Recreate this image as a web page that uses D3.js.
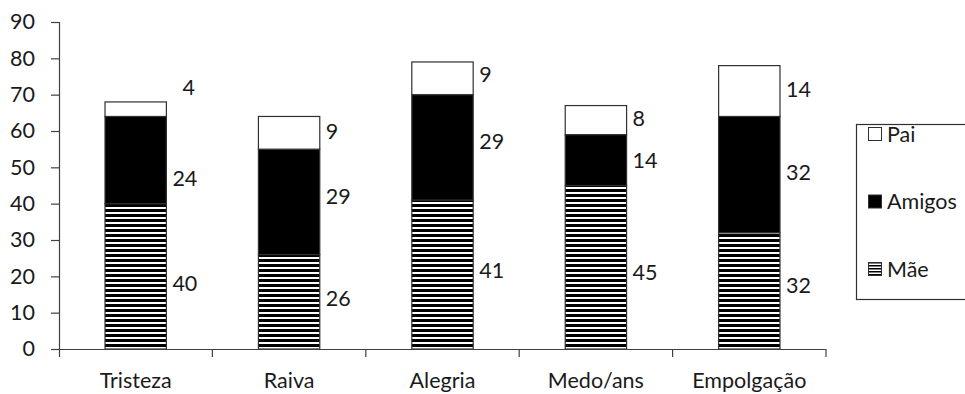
<!DOCTYPE html>
<html>
<head>
<meta charset="utf-8">
<script src="https://cdn.jsdelivr.net/npm/d3@7"></script>
<style>
  html, body { margin: 0; padding: 0; background: #fff; }
  svg { display: block; }
  text { font-family: Lato, "Open Sans", sans-serif; fill: #1a1a1a; }
</style>
</head>
<body>
<svg id="chart" width="965" height="394"></svg>
<script>
// ---- data ----
const categories = ["Tristeza", "Raiva", "Alegria", "Medo/ans", "Empolgação"];
const seriesNames = ["Mãe", "Amigos", "Pai"];
const maeValues = [40, 26, 41, 45, 32];
const amigosValues = [24, 29, 29, 14, 32];
const paiValues = [4, 9, 9, 8, 14];
const yTicks = [0, 10, 20, 30, 40, 50, 60, 70, 80, 90];
// label nudges (in data units) for the manually placed labels in the original
const maeLabelNudge = [-2, 1, 1, -1.5, 1.5];
const amigosLabelNudge = [-5, 1.5, 1.5, 0, 0.5];
const paiLabelNudge = [6, 0.5, 1, 0.5, 0.5];

const rows = categories.map((c, i) => ({ cat: c, "Mãe": maeValues[i], "Amigos": amigosValues[i], "Pai": paiValues[i] }));
const nudges = { "Mãe": maeLabelNudge, "Amigos": amigosLabelNudge, "Pai": paiLabelNudge };

const FS = 21.5;
const svg = d3.select("#chart");
const left = 59;

const x = d3.scaleBand().domain(categories).range([left, 826]).paddingInner(0).paddingOuter(0);
const y = d3.scaleLinear().domain([0, 90]).range([349, 22]);

// hatch pattern
const defs = svg.append("defs");
const pat = defs.append("pattern").attr("id", "hatch").attr("patternUnits", "userSpaceOnUse")
  .attr("width", 8).attr("height", 5).attr("y", 349);
pat.append("rect").attr("width", 8).attr("height", 5).attr("fill", "#fff");
pat.append("rect").attr("y", 0).attr("width", 8).attr("height", 3).attr("fill", "#000");
const patL = defs.append("pattern").attr("id", "hatchL").attr("patternUnits", "userSpaceOnUse")
  .attr("width", 8).attr("height", 3).attr("y", 1);
patL.append("rect").attr("width", 8).attr("height", 3).attr("fill", "#fff");
patL.append("rect").attr("width", 8).attr("height", 1.5).attr("fill", "#000");

const fills = { "Mãe": "url(#hatch)", "Amigos": "#000", "Pai": "#fff" };
const legendFills = { "Mãe": "url(#hatchL)", "Amigos": "#000", "Pai": "#fff" };

const stack = d3.stack().keys(seriesNames)(rows);

const barW = x.bandwidth() * 0.4;
const barX = d => x(d.data.cat) + (x.bandwidth() - barW) / 2;

// y axis
const yAxis = d3.axisLeft(y).tickValues(yTicks).tickSize(8).tickPadding(16).tickSizeOuter(0);
const gy = svg.append("g").attr("transform", `translate(${left},0)`).call(yAxis);
gy.select(".domain").remove();
gy.append("line").attr("x1", 0.5).attr("x2", 0.5).attr("y1", 22).attr("y2", 357).attr("stroke", "#404040").attr("stroke-width", 1.2);
gy.selectAll(".tick line").attr("stroke", "#404040").attr("stroke-width", 1.2);
gy.selectAll(".tick text").attr("font-size", FS).attr("font-family", "Lato, sans-serif").attr("fill", "#1a1a1a");

// bars
stack.forEach(layer => {
  const key = layer.key;
  svg.append("g").selectAll("rect").data(layer).join("rect")
    .attr("x", d => barX(d))
    .attr("y", d => y(d[1]))
    .attr("width", barW)
    .attr("height", d => y(d[0]) - y(d[1]))
    .attr("fill", fills[key])
    .attr("stroke", "#303030")
    .attr("stroke-width", 1.2);
});

// x axis
const xAxis = d3.axisBottom(x).tickSize(0).tickPadding(24).tickSizeOuter(0);
const gx = svg.append("g").attr("transform", "translate(0,349)").call(xAxis);
gx.select(".domain").remove();
gx.selectAll(".tick text").attr("font-size", FS).attr("font-family", "Lato, sans-serif").attr("fill", "#1a1a1a");
svg.append("line").attr("x1", left).attr("x2", 826).attr("y1", 349.5).attr("y2", 349.5).attr("stroke", "#404040").attr("stroke-width", 1.2);
const bounds = categories.map(c => x(c)).concat([x(categories[categories.length - 1]) + x.bandwidth()]);
svg.append("g").selectAll("line").data(bounds.slice(1)).join("line")
  .attr("x1", d => d).attr("x2", d => d).attr("y1", 349).attr("y2", 357)
  .attr("stroke", "#404040").attr("stroke-width", 1.2);

// value labels
stack.forEach(layer => {
  const key = layer.key;
  svg.append("g").selectAll("text").data(layer).join("text")
    .attr("x", (d, i) => barX(d) + barW + (key === "Pai" && i === 0 ? 16 : 6))
    .attr("y", (d, i) => y((d[0] + d[1]) / 2 + nudges[key][i]))
    .attr("dy", "0.35em")
    .attr("font-size", FS)
    .text(d => d.data[key]);
});

// legend
const lg = svg.append("g");
lg.append("rect").attr("x", 856.5).attr("y", 124.5).attr("width", 120).attr("height", 175)
  .attr("fill", "#fff").attr("stroke", "#303030").attr("stroke-width", 1.2);
const legendItems = ["Pai", "Amigos", "Mãe"];
const ly = d3.scalePoint().domain(legendItems).range([134, 269]);
legendItems.forEach(k => {
  lg.append("rect").attr("x", 868.5).attr("y", ly(k) - 6.5).attr("width", 13).attr("height", 13)
    .attr("fill", legendFills[k]).attr("stroke", "#303030").attr("stroke-width", 1);
  lg.append("text").attr("x", 887).attr("y", ly(k)).attr("dy", "0.35em").attr("font-size", FS).text(k);
});
</script>
</body>
</html>
